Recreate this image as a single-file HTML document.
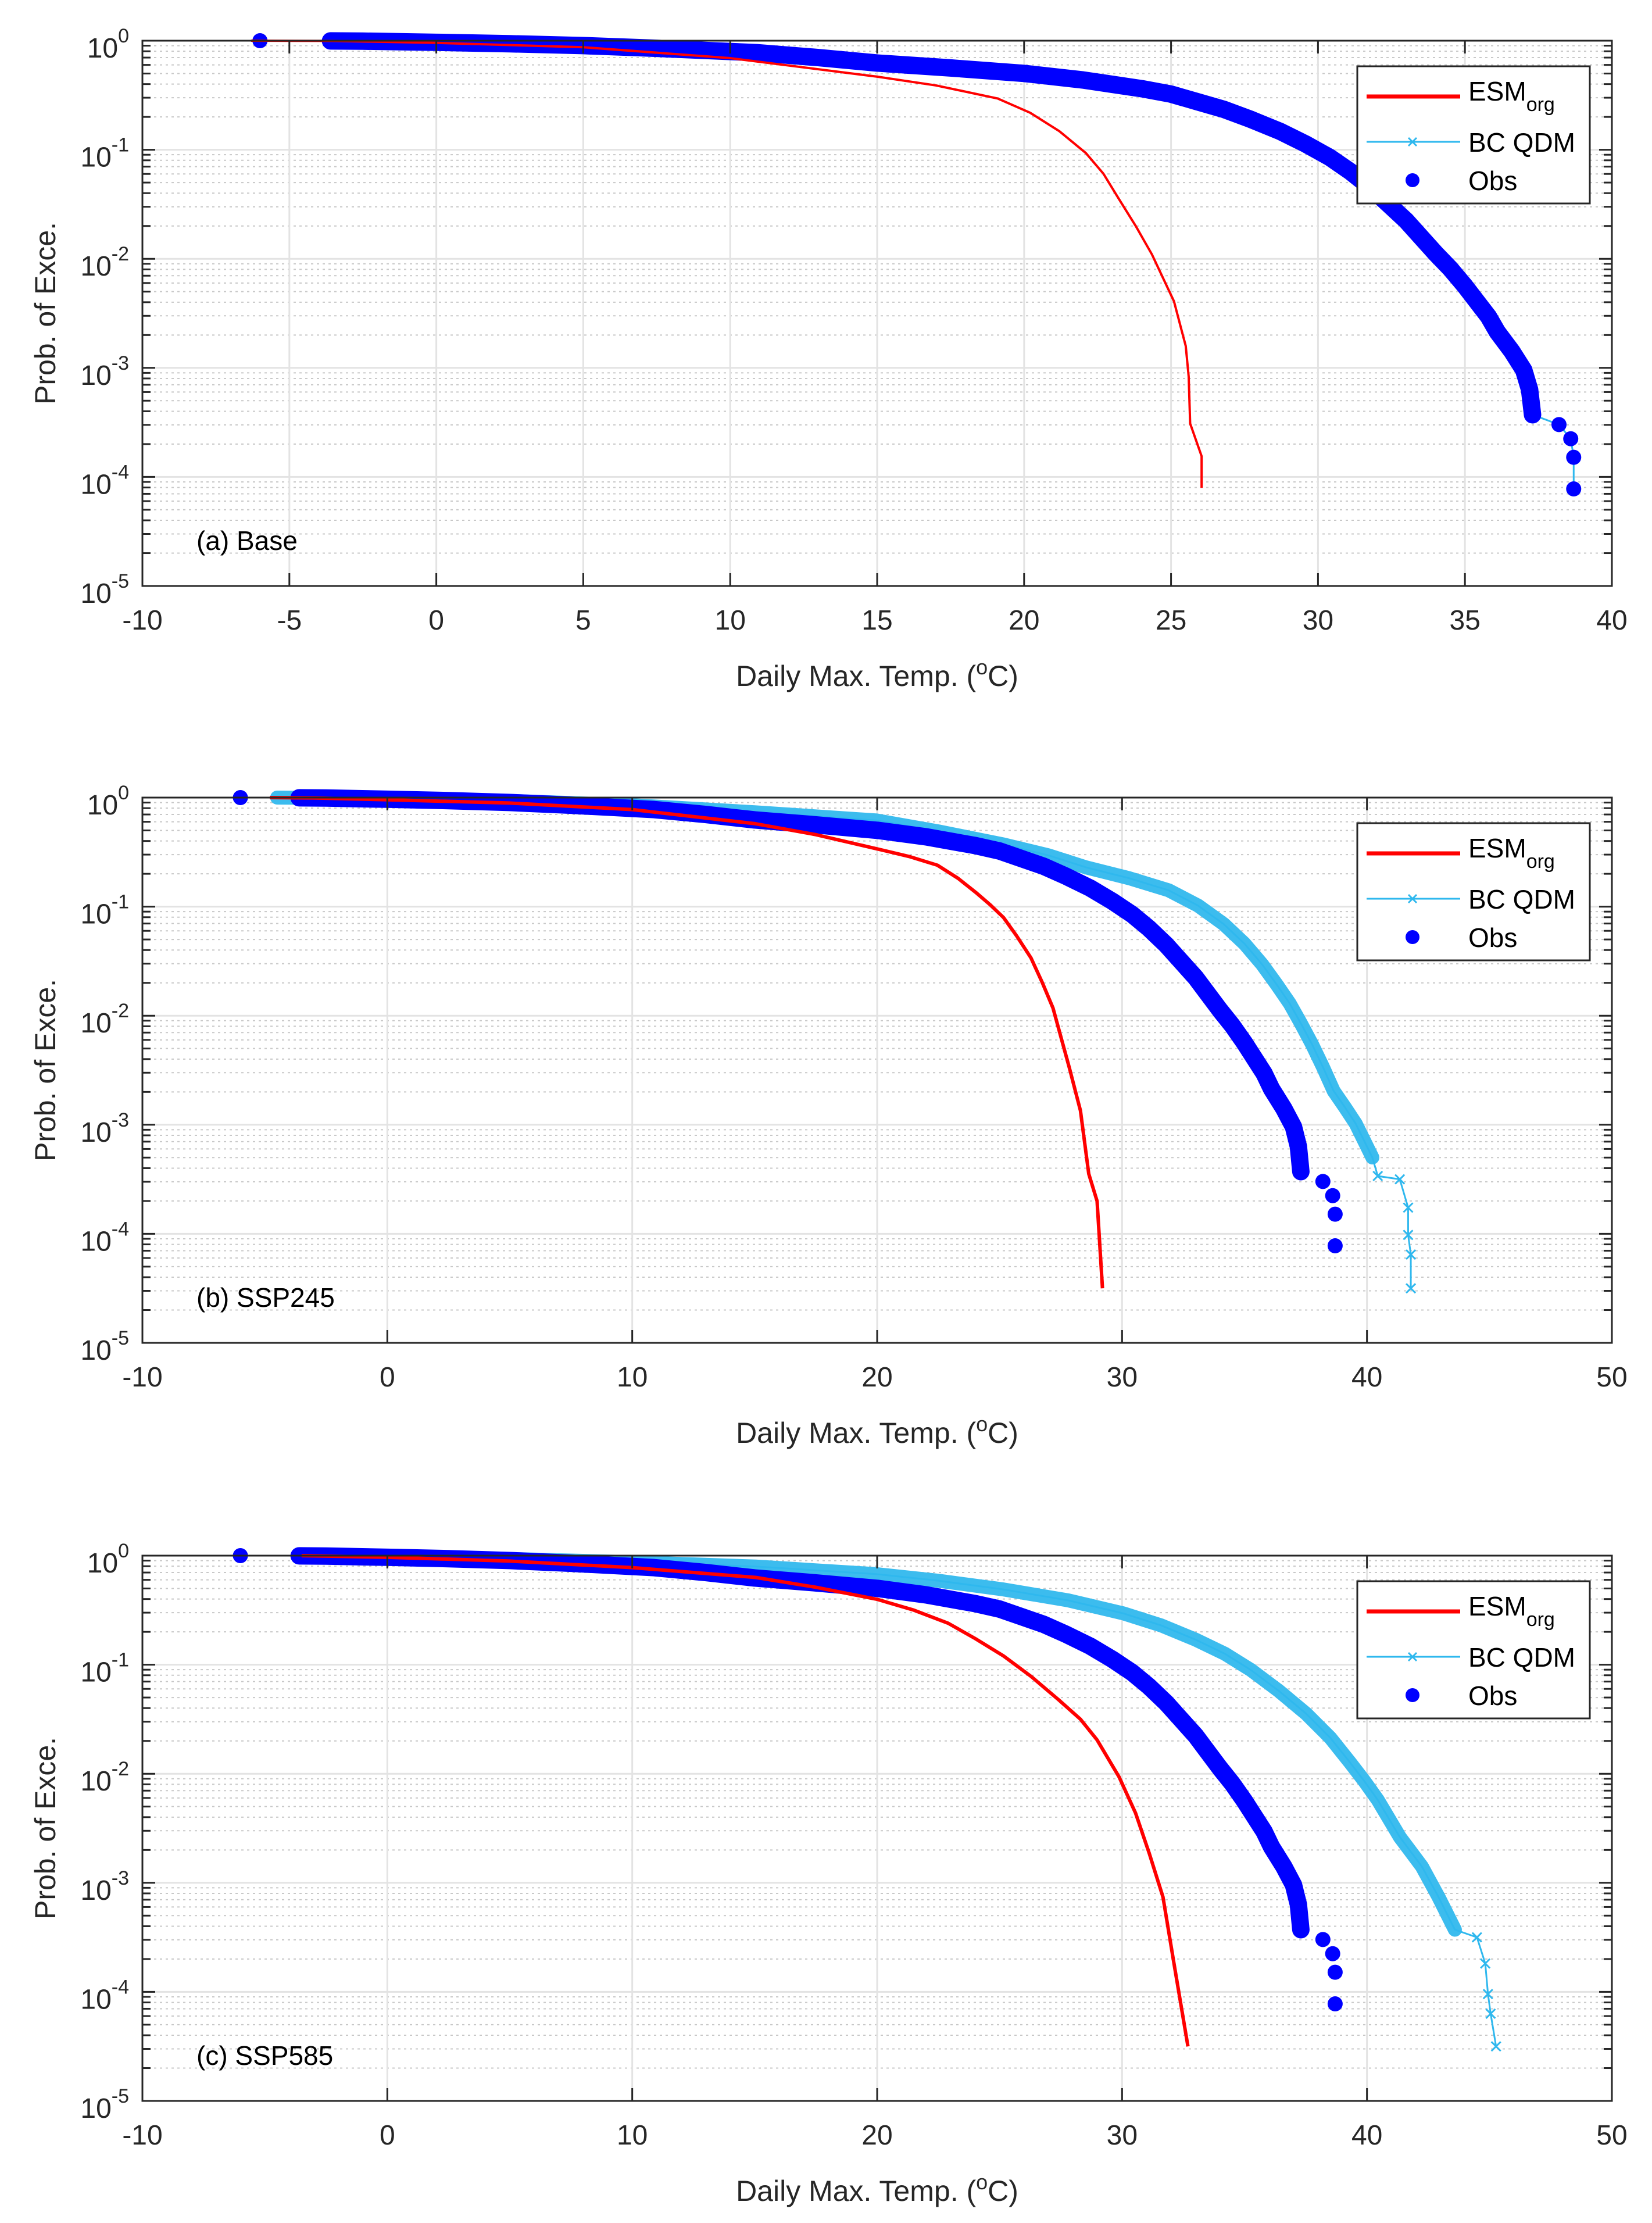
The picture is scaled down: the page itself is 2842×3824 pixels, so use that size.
<!DOCTYPE html>
<html><head><meta charset="utf-8"><style>
html,body{margin:0;padding:0;background:#fff;}
svg{display:block;font-family:"Liberation Sans",Arial,sans-serif;}
</style></head><body>
<svg id="fig" width="2842" height="3824" viewBox="0 0 2842 3824" xmlns="http://www.w3.org/2000/svg"></svg>
<script>
// ---- data (temperature °C, log10 exceedance probability) ----
const obsBandT = [-3.6, -2.5, 0, 2.5, 5, 7.5, 10.9, 13, 15, 17.5, 20, 22, 24, 25, 25.9, 26.8, 27.7, 28.7, 29.6, 30.4, 31.1, 31.8, 32.4, 33.0, 33.5, 34.0, 34.5, 35.0, 35.4, 35.8, 36.1, 36.6, 37.0, 37.2, 37.3];
const obsBandLogP = [-0.002, -0.004, -0.015, -0.028, -0.045, -0.07, -0.11, -0.155, -0.205, -0.25, -0.30, -0.36, -0.44, -0.49, -0.56, -0.63, -0.72, -0.83, -0.95, -1.07, -1.2, -1.35, -1.5, -1.65, -1.8, -1.95, -2.09, -2.25, -2.39, -2.53, -2.67, -2.85, -3.02, -3.2, -3.43];
const obsPtT = [-6.0, 38.2, 38.6, 38.7, 38.7];
const obsPtLogP = [0, -3.52, -3.65, -3.82, -4.11];

const esmT_a = [-6.3, -3.5, 0, 5, 10, 15, 17, 19.1, 20.2, 21.2, 22.1, 22.7, 23.2, 23.8, 24.35, 25.1, 25.5, 25.6, 25.65, 26.04, 26.04];
const esmLogP_a = [0, -0.002, -0.02, -0.06, -0.16, -0.33, -0.41, -0.53, -0.66, -0.83, -1.03, -1.22, -1.44, -1.70, -1.96, -2.39, -2.80, -3.08, -3.51, -3.81, -4.10];
const bcT_a = [-3.6, 0, 5, 10.9, 15, 20, 24, 25.9, 27.7, 29.6, 31.1, 32.4, 33.5, 34.5, 35.4, 36.1, 37.0, 37.3, 38.2, 38.6, 38.7, 38.7];
const bcLogP_a = [-0.002, -0.015, -0.045, -0.11, -0.205, -0.30, -0.44, -0.56, -0.72, -0.95, -1.2, -1.5, -1.8, -2.09, -2.39, -2.67, -3.02, -3.43, -3.52, -3.65, -3.82, -4.11];

const esmT_b = [-4.8, -3, 0, 5, 10, 15.04, 17.5, 19.99, 21.3, 22.46, 23.3, 24.03, 24.6, 25.16, 25.7, 26.28, 26.75, 27.18, 27.85, 28.3, 28.64, 28.98, 29.2];
const esmLogP_b = [0, -0.003, -0.02, -0.05, -0.11, -0.24, -0.34, -0.47, -0.54, -0.62, -0.74, -0.87, -0.98, -1.10, -1.27, -1.47, -1.70, -1.93, -2.48, -2.87, -3.45, -3.70, -4.50];
const bcT_b = [-4.5, -3, 0, 5, 10, 15.04, 19.99, 22.5, 25.16, 27.0, 28.53, 30.3, 31.9, 33.1, 34.15, 35.0, 35.72, 36.3, 36.85, 37.3, 37.75, 38.2, 38.64, 39.1, 39.54, 40.22, 40.44, 41.34, 41.68, 41.68, 41.79, 41.79];
const bcLogP_b = [0, -0.002, -0.01, -0.03, -0.07, -0.135, -0.21, -0.31, -0.43, -0.53, -0.64, -0.74, -0.85, -0.99, -1.16, -1.34, -1.53, -1.71, -1.89, -2.07, -2.26, -2.47, -2.69, -2.84, -2.99, -3.30, -3.47, -3.50, -3.76, -4.01, -4.19, -4.50];

const esmT_c = [-3.5, 0, 5, 10, 15.04, 17.5, 19.99, 21.5, 22.9, 24.0, 25.16, 26.3, 27.4, 28.3, 28.98, 29.88, 30.55, 31.11, 31.67, 32.12, 32.69];
const esmLogP_c = [0, -0.015, -0.05, -0.11, -0.20, -0.29, -0.40, -0.50, -0.62, -0.76, -0.92, -1.11, -1.32, -1.50, -1.69, -2.03, -2.36, -2.73, -3.13, -3.74, -4.50];
const bcT_c = [-3.5, 0, 5, 10, 15.04, 19.99, 22.5, 25.16, 27.8, 30.06, 31.6, 33.0, 34.2, 35.27, 36.4, 37.52, 38.5, 39.32, 39.9, 40.44, 41.34, 42.24, 42.92, 43.59, 44.49, 44.83, 44.94, 45.05, 45.27];
const bcLogP_c = [0, -0.01, -0.03, -0.06, -0.10, -0.17, -0.23, -0.31, -0.41, -0.53, -0.64, -0.77, -0.90, -1.05, -1.24, -1.45, -1.67, -1.90, -2.07, -2.24, -2.58, -2.85, -3.13, -3.43, -3.50, -3.74, -4.02, -4.20, -4.50];

const xTicksA = [-10, -5, 0, 5, 10, 15, 20, 25, 30, 35, 40];
const xTicksBC = [-10, 0, 10, 20, 30, 40, 50];
const yExps = [0, -1, -2, -3, -4, -5];
const panelLabels = ["(a) Base", "(b) SSP245", "(c) SSP585"];

const NS = "http://www.w3.org/2000/svg";
const svg = document.getElementById('fig');
function mk(tag, attrs, parent) {
  const e = document.createElementNS(NS, tag);
  for (const k in attrs) e.setAttribute(k, attrs[k]);
  (parent || svg).appendChild(e);
  return e;
}

const L = 245, R = 2773, H = 938;
function drawPanel(idx, top, xMin, xMax, xTicks, esmT, esmLP, bcT, bcLP) {
  const g = mk('g', {});
  
  
  const bottom = top + H;
  const X = t => L + (t - xMin) / (xMax - xMin) * (R - L);
  const Y = lp => top - lp * (H / 5);

  const grid = mk('g', {}, g);
  
  
  for (let d = 0; d < 5; d++) {
    for (let m = 2; m <= 9; m++) {
      const y = Y(-d - 1 + Math.log10(m));
      mk('line', {x1: L, x2: R, y1: y, y2: y, stroke: '#c8c8c8', 'stroke-width': 2, 'stroke-dasharray': '4,6'}, grid);
    }
  }
  yExps.forEach(e => { const y = Y(e); mk('line', {x1: L, x2: R, y1: y, y2: y, stroke: '#e3e3e3', 'stroke-width': 3}, grid); });
  xTicks.forEach(t => { const x = X(t); mk('line', {x1: x, x2: x, y1: top, y2: bottom, stroke: '#e3e3e3', 'stroke-width': 3}, grid); });

  const bcPts = bcT.map((t, i) => X(t) + ',' + Y(bcLP[i]));
  const bandPts = bcT.map((t, i) => [t, bcLP[i]]).filter(p => p[1] > -3.45).map(p => X(p[0]) + ',' + Y(p[1]));
  const bc = mk('g', {}, g);
  
  
  if (idx > 0) mk('polyline', {points: bandPts.join(' '), fill: 'none', stroke: '#3cbcee', 'stroke-width': 24, 'stroke-linejoin': 'round', 'stroke-linecap': 'round'}, bc);
  mk('polyline', {points: bcPts.join(' '), fill: 'none', stroke: '#2fb8ee', 'stroke-width': 3}, bc);
  if (idx > 0) bcT.forEach((t, i) => {
    if (bcLP[i] > -3.45) return;
    const x = X(t), y = Y(bcLP[i]), s = 8;
    mk('path', {d: `M${x-s},${y-s}L${x+s},${y+s}M${x-s},${y+s}L${x+s},${y-s}`, stroke: '#2fb8ee', 'stroke-width': 3}, bc);
  });

  const ob = mk('g', {}, g);
  
  
  mk('polyline', {points: obsBandT.map((t, i) => X(t) + ',' + Y(obsBandLogP[i])).join(' '), fill: 'none', stroke: '#0000ff', 'stroke-width': 30, 'stroke-linejoin': 'round', 'stroke-linecap': 'round'}, ob);
  obsPtT.forEach((t, i) => mk('ellipse', {cx: X(t), cy: Y(obsPtLogP[i]), rx: 13, ry: 13, fill: '#0000ff'}, ob));

  const es = mk('polyline', {points: esmT.map((t, i) => X(t) + ',' + Y(esmLP[i])).join(' '), fill: 'none', stroke: '#ff0000', 'stroke-width': idx === 0 ? 4 : 6, 'stroke-linejoin': 'round'}, g);
  
  

  const ax = mk('g', {}, g);
  
  
  mk('rect', {x: L, y: top, width: R - L, height: H, fill: 'none', stroke: '#262626', 'stroke-width': 3}, ax);
  xTicks.forEach(t => {
    const x = X(t);
    mk('line', {x1: x, x2: x, y1: bottom, y2: bottom - 22, stroke: '#262626', 'stroke-width': 3}, ax);
    mk('line', {x1: x, x2: x, y1: top, y2: top + 22, stroke: '#262626', 'stroke-width': 3}, ax);
    const tl = mk('text', {x: x, y: bottom + 75, 'font-size': 48, 'text-anchor': 'middle', fill: '#262626'}, ax);
    tl.textContent = String(t);
    
    
  });
  for (let d = 0; d < 5; d++) for (let m = 2; m <= 9; m++) {
    const y = Y(-d - 1 + Math.log10(m));
    mk('line', {x1: L, x2: L + 14, y1: y, y2: y, stroke: '#262626', 'stroke-width': 3}, ax);
    mk('line', {x1: R, x2: R - 14, y1: y, y2: y, stroke: '#262626', 'stroke-width': 3}, ax);
  }
  yExps.forEach(e => {
    const y = Y(e);
    mk('line', {x1: L, x2: L + 22, y1: y, y2: y, stroke: '#262626', 'stroke-width': 3}, ax);
    mk('line', {x1: R, x2: R - 22, y1: y, y2: y, stroke: '#262626', 'stroke-width': 3}, ax);
    const tl = mk('text', {x: 222, y: y + 29, 'font-size': 48, 'text-anchor': 'end', fill: '#262626'}, ax);
    
    
    const a = mk('tspan', {}, tl); a.textContent = '10';
    const b = mk('tspan', {dy: -26, 'font-size': 34}, tl); b.textContent = String(e);
  });

  const xt = mk('text', {x: (L + R) / 2, y: bottom + 172, 'font-size': 50, 'text-anchor': 'middle', fill: '#262626'}, g);
  
  
  const t1 = mk('tspan', {}, xt); t1.textContent = 'Daily Max. Temp. (';
  const t2 = mk('tspan', {dy: -20, 'font-size': 36}, xt); t2.textContent = 'o';
  const t3 = mk('tspan', {dy: 20}, xt); t3.textContent = 'C)';
  const yt = mk('text', {x: 0, y: 0, 'font-size': 50, 'text-anchor': 'middle', fill: '#262626', transform: `translate(95,${top + H / 2}) rotate(-90)`}, g);
  yt.textContent = 'Prob. of Exce.';
  
  
  const pl = mk('text', {x: 338, y: top + 876, 'font-size': 46, fill: '#000'}, g);
  pl.textContent = panelLabels[idx];
  
  

  const lg = mk('g', {}, g);
  
  
  mk('rect', {x: 2335, y: top + 44, width: 400, height: 236, fill: '#fff', stroke: '#262626', 'stroke-width': 3}, lg);
  const e1 = mk('g', {}, lg);
  
  
  mk('line', {x1: 2351, x2: 2512, y1: top + 96, y2: top + 96, stroke: '#ff0000', 'stroke-width': 7}, e1);
  const lt1 = mk('text', {x: 2526, y: top + 103, 'font-size': 46, fill: '#000'}, e1);
  const s1 = mk('tspan', {}, lt1); s1.textContent = 'ESM';
  const s2 = mk('tspan', {dy: 18, 'font-size': 34}, lt1); s2.textContent = 'org';
  const e2 = mk('g', {}, lg);
  
  
  mk('line', {x1: 2351, x2: 2512, y1: top + 174, y2: top + 174, stroke: '#2fb8ee', 'stroke-width': 3}, e2);
  mk('path', {d: `M2423,${top+167}L2437,${top+181}M2423,${top+181}L2437,${top+167}`, stroke: '#2fb8ee', 'stroke-width': 3}, e2);
  const lt2 = mk('text', {x: 2526, y: top + 191, 'font-size': 46, fill: '#000'}, e2); lt2.textContent = 'BC QDM';
  const e3 = mk('g', {}, lg);
  
  
  mk('circle', {cx: 2430, cy: top + 240, r: 12, fill: '#0000ff'}, e3);
  const lt3 = mk('text', {x: 2526, y: top + 257, 'font-size': 46, fill: '#000'}, e3); lt3.textContent = 'Obs';
}

drawPanel(0, 70, -10, 40, xTicksA, esmT_a, esmLogP_a, bcT_a, bcLogP_a);
drawPanel(1, 1372, -10, 50, xTicksBC, esmT_b, esmLogP_b, bcT_b, bcLogP_b);
drawPanel(2, 2676, -10, 50, xTicksBC, esmT_c, esmLogP_c, bcT_c, bcLogP_c);
</script>
</body></html>
